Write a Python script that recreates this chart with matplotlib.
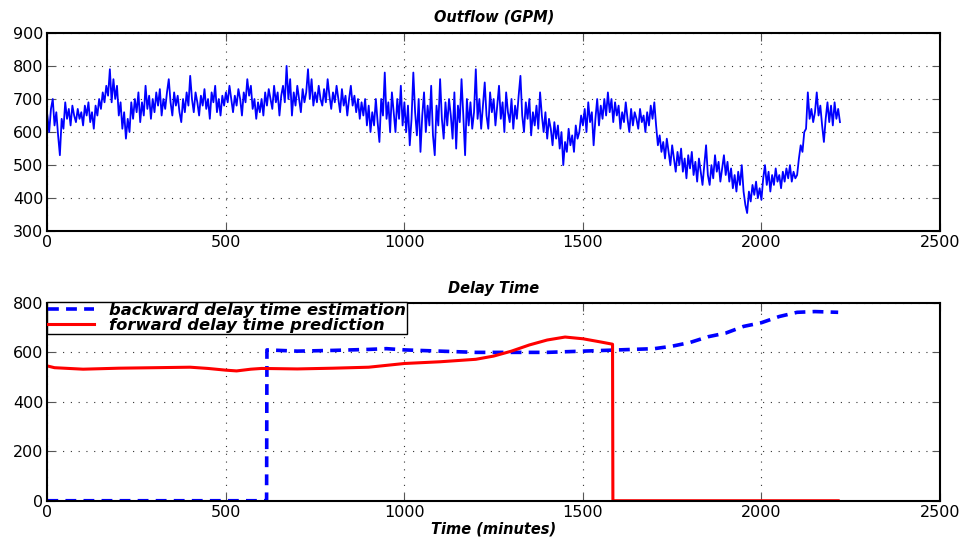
"""Outflow and delay time traces, two stacked panels.

Saves out.png.
"""
import matplotlib

matplotlib.use("Agg")
import matplotlib.pyplot as plt
import numpy as np

FONT = "DejaVu Sans"
BLUE = "#0000ff"
RED = "#ff0000"

# Outflow (GPM), one reading every 5 minutes from t = 0
outflow_step = 5
outflow = [
    650, 600, 670, 700, 620, 660, 590, 530, 640, 610, 690, 640, 670, 620, 680, 650, 630, 670, 640, 660,
    620, 680, 650, 690, 630, 660, 610, 680, 650, 700, 670, 720, 690, 740, 710, 790, 690, 760, 700, 740,
    650, 690, 610, 660, 580, 640, 600, 690, 640, 700, 660, 720, 630, 690, 650, 740, 670, 710, 640, 700,
    660, 720, 680, 730, 650, 700, 670, 720, 760, 690, 650, 720, 680, 710, 660, 630, 700, 660, 720, 680,
    770, 700, 660, 720, 690, 650, 710, 680, 730, 670, 700, 640, 720, 690, 740, 660, 700, 650, 710, 680,
    720, 690, 740, 700, 660, 710, 680, 730, 700, 650, 720, 690, 760, 710, 740, 670, 700, 640, 690, 660,
    700, 650, 720, 680, 730, 700, 670, 740, 690, 720, 650, 710, 740, 690, 800, 700, 760, 650, 720, 680,
    740, 700, 660, 730, 690, 720, 790, 700, 760, 680, 720, 690, 740, 700, 680, 730, 690, 760, 710, 670,
    720, 690, 740, 700, 660, 730, 680, 710, 650, 700, 740, 680, 710, 660, 700, 640, 690, 650, 700, 620,
    680, 600, 660, 620, 700, 630, 570, 700, 650, 780, 640, 690, 600, 720, 660, 600, 700, 640, 740, 620,
    690, 600, 680, 560, 640, 780, 660, 590, 700, 540, 650, 720, 600, 680, 620, 740, 590, 530, 680, 620,
    760, 640, 580, 690, 620, 700, 650, 580, 720, 550, 680, 630, 760, 650, 530, 700, 620, 690, 610, 660,
    790, 640, 700, 610, 680, 750, 650, 610, 720, 660, 700, 620, 680, 740, 640, 690, 600, 720, 660, 630,
    700, 610, 680, 640, 710, 770, 650, 600, 690, 640, 700, 590, 660, 620, 680, 610, 720, 650, 600, 660,
    580, 640, 610, 560, 630, 580, 620, 550, 600, 500, 570, 540, 610, 560, 590, 540, 620, 580, 600, 650,
    620, 670, 600, 690, 630, 660, 560, 640, 700, 620, 680, 640, 700, 650, 720, 660, 700, 630, 690, 650,
    680, 610, 660, 630, 690, 640, 600, 670, 620, 660, 640, 610, 670, 630, 650, 600, 660, 620, 680, 640,
    690, 620, 560, 590, 540, 570, 520, 580, 540, 500, 560, 520, 480, 540, 500, 550, 480, 520, 460, 530,
    490, 540, 470, 510, 450, 520, 480, 440, 500, 560, 470, 440, 500, 460, 530, 480, 510, 450, 490, 530,
    470, 510, 450, 490, 430, 470, 420, 480, 440, 500, 420, 380, 355, 420, 390, 440, 410, 450, 400, 430,
    395, 460, 500, 440, 480, 420, 470, 440, 490, 450, 470, 430, 480, 450, 490, 460, 500, 450, 480, 460,
    470, 520, 560, 540, 600, 610, 720, 640, 670, 630, 660, 720, 650, 680, 620, 570, 640, 690, 630, 680,
    620, 690, 640, 670, 630,
]
outflow_t = np.arange(len(outflow)) * outflow_step

# Delay time (minutes)
backward_t = [0, 614, 615, 700, 800, 900, 950, 1000, 1100, 1200, 1300, 1400, 1500, 1600, 1700,
              1750, 1800, 1850, 1900, 1950, 2000, 2050, 2100, 2150, 2215]
backward = [0, 0, 610, 605, 608, 612, 615, 610, 605, 600, 600, 600, 605, 610, 615,
            625, 640, 663, 678, 705, 720, 745, 762, 765, 762]
forward_t = [0, 20, 100, 200, 300, 400, 450, 500, 530, 570, 600, 700, 800, 900, 1000, 1100,
             1200, 1250, 1300, 1350, 1400, 1450, 1500, 1550, 1583, 1584, 2215]
forward = [545, 538, 532, 536, 538, 540, 535, 528, 525, 532, 535, 533, 536, 540, 555, 562,
           572, 585, 605, 630, 650, 662, 655, 642, 633, 0, 0]

x_ticks = [0, 500, 1000, 1500, 2000, 2500]
outflow_ticks = [300, 400, 500, 600, 700, 800, 900]
delay_ticks = [0, 200, 400, 600, 800]

plt.rcParams.update({"font.family": FONT, "font.size": 11.5})
fig = plt.figure(figsize=(9.67, 5.39), dpi=100)
ax1 = fig.add_axes([0.049, 0.571, 0.923, 0.368])
ax2 = fig.add_axes([0.049, 0.071, 0.923, 0.367])

lab = dict(fontsize=10.5, fontweight="bold", style="italic")


def style(ax, yticks):
    ax.set_xlim(0, 2500)
    ax.set_ylim(yticks[0], yticks[-1])
    ax.set_xticks(x_ticks)
    ax.set_yticks(yticks)
    ax.grid(True, color="#333333", linestyle=(0, (1, 6)), linewidth=0.8)
    ax.tick_params(direction="in", length=6, width=0.8, top=True, right=True,
                   colors="#555555", labelcolor="black", pad=3)
    for sp in ax.spines.values():
        sp.set_linewidth(1.5)
        sp.set_color("black")


ax1.plot(outflow_t, outflow, color=BLUE, lw=1.3)
style(ax1, outflow_ticks)
ax1.set_title("Outflow (GPM)", pad=8, **lab)

ax2.plot(backward_t, backward, color=BLUE, lw=2.6, ls=(0, (3, 2)),
         label="backward delay time estimation")
ax2.plot(forward_t, forward, color=RED, lw=2.2, label="forward delay time prediction")
style(ax2, delay_ticks)
ax2.set_title("Delay Time", pad=7, **lab)
ax2.set_xlabel("Time (minutes)", labelpad=1, **lab)
leg = ax2.legend(loc="upper left", bbox_to_anchor=(0.0, 1.005), fancybox=False,
                 edgecolor="black", framealpha=1, borderaxespad=0, handlelength=2.8,
                 prop={"family": FONT, "weight": "bold", "style": "italic", "size": 11.8},
                 borderpad=0.05, labelspacing=0.0, handletextpad=0.9)
leg.get_frame().set_linewidth(1.0)

fig.savefig("out.png", dpi=100)
print("saved out.png")
